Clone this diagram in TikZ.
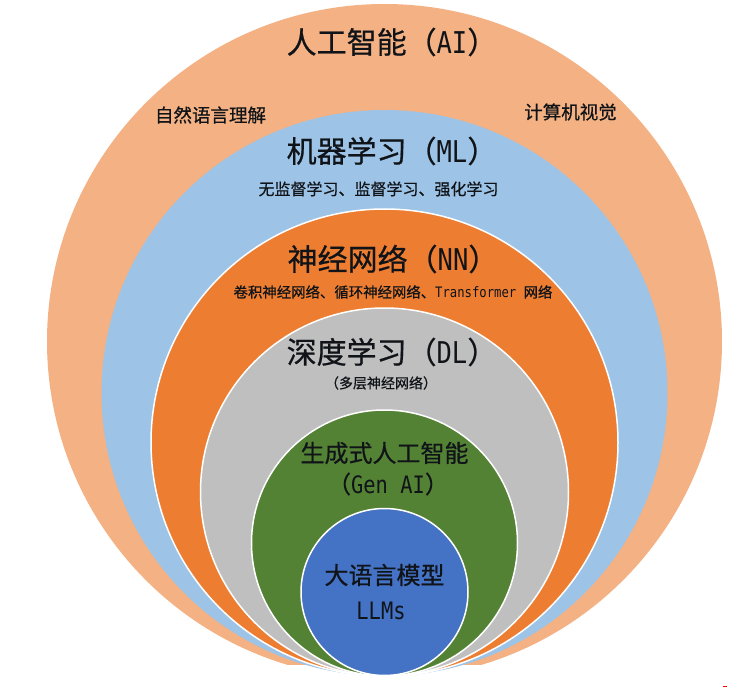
\documentclass[tikz,border=0pt]{standalone}
\usepackage{fontspec}
\setmainfont{Noto Sans CJK SC}[FakeBold=0.6]
\newfontfamily\latmono{DejaVu Sans Mono}[FakeStretch=0.85]
\newcommand{\mylat}[1]{{\latmono #1}}
\definecolor{cpeach}{HTML}{F4B183}
\definecolor{cblue}{HTML}{9DC3E6}
\definecolor{corange}{HTML}{ED7D31}
\definecolor{cgrey}{HTML}{BFBFBF}
\definecolor{cgreen}{HTML}{548235}
\definecolor{cllm}{HTML}{4472C4}
\definecolor{ctext}{HTML}{101418}
\begin{document}
\begin{tikzpicture}[x=1pt,y=-1pt,
  ring/.style={draw=white,line width=1.5pt},
  lbl/.style={inner sep=0pt,text=ctext,anchor=center},
  big/.style={lbl,font=\fontsize{30}{36}\selectfont},
  mid/.style={lbl,font=\fontsize{24}{29}\selectfont},
  side/.style={lbl,font=\fontsize{18.5}{22}\selectfont},
  small/.style={lbl,font=\fontsize{16}{19}\selectfont},
  tiny/.style={lbl,font=\fontsize{14.4}{17}\selectfont}]
\useasboundingbox (0,0) rectangle (756,690);
% outer AI circle, bottom cut off
\begin{scope}
  \clip (0,0) rectangle (756,664);
  \fill[cpeach] (384.5,341.5) circle[radius=337.5pt];
\end{scope}
\fill[cblue] (384.5,393) circle[radius=283pt];
\filldraw[ring,fill=corange] (384.5,442.5) circle[radius=233.5pt];
\filldraw[ring,fill=cgrey] (384.5,492) circle[radius=184pt];
\filldraw[ring,fill=cgreen] (384.5,543) circle[radius=133pt];
\filldraw[ring,fill=cllm] (384.5,592) circle[radius=83.5pt];
% labels
\node[big] (ai) at (392,42) {人工智能（\mylat{AI}）};
\node[side] (nlp) at (210.5,115) {自然语言理解};
\node[side] (cv) at (570.5,112) {计算机视觉};
\node[big] (ml) at (392,151) {机器学习（\mylat{ML}）};
\node[small] (mlsub) at (378.5,189) {无监督学习、监督学习、强化学习};
\node[big] (nn) at (393,259) {神经网络（\mylat{NN}）};
\node[tiny] (nnsub) at (393,292) {卷积神经网络、循环神经网络、\mylat{Transformer }网络};
\node[big] (dl) at (392,352) {深度学习（\mylat{DL}）};
\node[lbl,font=\fontsize{14}{17}\selectfont] (dlsub) at (381,383) {（多层神经网络）};
\node[mid] (gen) at (384.5,453) {生成式人工智能};
\node[mid] (gensub) at (388,484) {（\mylat{Gen AI}）};
\node[mid] (llm) at (384.5,575) {大语言模型};
\node[mid] (llmsub) at (381,611) {\mylat{LLMs}};
\fill[red] (723,685.7) rectangle (727,687);
\end{tikzpicture}
\end{document}
